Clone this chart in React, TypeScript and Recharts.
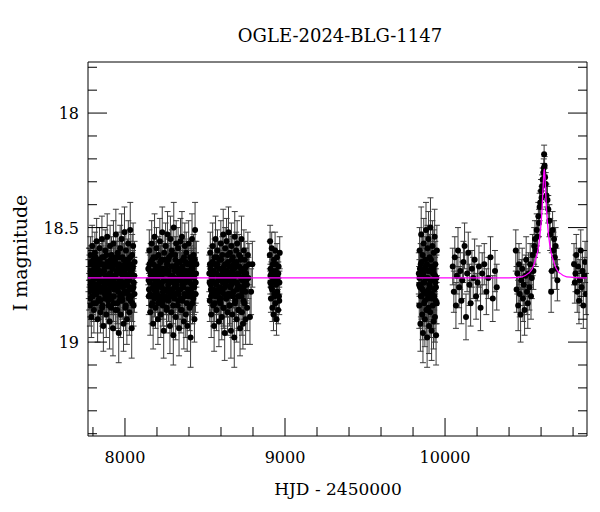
import { ComposedChart, Scatter, Line, XAxis, YAxis, ErrorBar } from "recharts";

// [HJD-2450000, I mag, error]
const S2017 = [
  [7772, 18.71, 0.07], [7776, 18.78, 0.08], [7779, 18.66, 0.07], [7781, 18.84, 0.09], [7784, 18.62, 0.08], [7787, 18.74, 0.06], [7790, 18.89, 0.09], [7792, 18.69, 0.07], [7795, 18.58, 0.09], [7798, 18.8, 0.08],
  [7801, 18.73, 0.07], [7804, 18.65, 0.08], [7806, 18.86, 0.1], [7809, 18.7, 0.06], [7812, 18.61, 0.09], [7815, 18.77, 0.07], [7818, 18.83, 0.08], [7820, 18.68, 0.07], [7823, 18.56, 0.1], [7826, 18.75, 0.07],
  [7829, 18.9, 0.1], [7832, 18.64, 0.08], [7835, 18.72, 0.06], [7838, 18.81, 0.09], [7841, 18.59, 0.09], [7844, 18.7, 0.07], [7847, 18.87, 0.09], [7850, 18.66, 0.08], [7853, 18.76, 0.07], [7856, 18.55, 0.1],
  [7859, 18.84, 0.08], [7862, 18.69, 0.07], [7865, 18.93, 0.11], [7868, 18.63, 0.08], [7871, 18.74, 0.06], [7874, 18.79, 0.08], [7877, 18.6, 0.09], [7880, 18.71, 0.07], [7883, 18.88, 0.1], [7886, 18.67, 0.07],
  [7889, 18.54, 0.1], [7892, 18.77, 0.07], [7895, 18.82, 0.08], [7898, 18.65, 0.08], [7901, 18.73, 0.06], [7904, 18.91, 0.12], [7907, 18.58, 0.09], [7910, 18.7, 0.07], [7913, 18.85, 0.09], [7916, 18.62, 0.08],
  [7919, 18.76, 0.07], [7922, 18.68, 0.07], [7925, 18.94, 0.12], [7928, 18.57, 0.1], [7931, 18.8, 0.08], [7934, 18.72, 0.06], [7937, 18.64, 0.08], [7940, 18.86, 0.09], [7943, 18.53, 0.11], [7946, 18.75, 0.07],
  [7949, 18.69, 0.07], [7952, 18.83, 0.09], [7955, 18.61, 0.09], [7958, 18.78, 0.08], [7961, 18.96, 0.13], [7964, 18.66, 0.08], [7967, 18.73, 0.06], [7970, 18.59, 0.1], [7973, 18.88, 0.1], [7976, 18.7, 0.07],
  [7979, 18.55, 0.11], [7982, 18.81, 0.08], [7985, 18.63, 0.09], [7988, 18.76, 0.07], [7991, 18.92, 0.12], [7994, 18.68, 0.08], [7997, 18.52, 0.11], [8000, 18.74, 0.07], [8003, 18.85, 0.1], [8006, 18.6, 0.09],
  [8009, 18.71, 0.07], [8012, 18.9, 0.11], [8015, 18.64, 0.09], [8018, 18.79, 0.08], [8021, 18.57, 0.1], [8024, 18.73, 0.07], [8027, 18.87, 0.1], [8030, 18.66, 0.08], [8033, 18.51, 0.12], [8036, 18.82, 0.09],
  [8039, 18.69, 0.08], [8042, 18.94, 0.13], [8045, 18.62, 0.09], [8048, 18.77, 0.08], [8051, 18.58, 0.1], [8054, 18.84, 0.09], [8057, 18.71, 0.08], [8060, 18.65, 0.09],
  [7774, 18.74, 0.07], [7778, 18.69, 0.07], [7783, 18.81, 0.08], [7788, 18.65, 0.07], [7793, 18.77, 0.07], [7797, 18.71, 0.06], [7802, 18.83, 0.08], [7807, 18.67, 0.07], [7811, 18.75, 0.06], [7816, 18.63, 0.07],
  [7821, 18.79, 0.07], [7825, 18.72, 0.06], [7830, 18.68, 0.07], [7834, 18.82, 0.08], [7839, 18.74, 0.06], [7843, 18.64, 0.07], [7848, 18.78, 0.07], [7852, 18.7, 0.06], [7857, 18.85, 0.08], [7861, 18.66, 0.07],
  [7866, 18.76, 0.06], [7870, 18.69, 0.07], [7875, 18.81, 0.08], [7879, 18.73, 0.06], [7884, 18.62, 0.07], [7888, 18.79, 0.07], [7893, 18.71, 0.06], [7897, 18.84, 0.08], [7902, 18.67, 0.07], [7906, 18.75, 0.06],
  [7911, 18.64, 0.07], [7915, 18.8, 0.07], [7920, 18.72, 0.06], [7924, 18.68, 0.07], [7929, 18.83, 0.08], [7933, 18.74, 0.06], [7938, 18.65, 0.07], [7942, 18.77, 0.07], [7947, 18.7, 0.06], [7951, 18.86, 0.08],
  [7956, 18.67, 0.07], [7960, 18.76, 0.06], [7965, 18.63, 0.07], [7969, 18.8, 0.07], [7974, 18.73, 0.06], [7978, 18.69, 0.07], [7983, 18.82, 0.08], [7987, 18.71, 0.06], [7992, 18.64, 0.07], [7996, 18.78, 0.07],
  [8001, 18.7, 0.06], [8005, 18.84, 0.08], [8010, 18.66, 0.07], [8014, 18.75, 0.06], [8019, 18.68, 0.07], [8023, 18.81, 0.08], [8028, 18.72, 0.06], [8032, 18.63, 0.07], [8037, 18.77, 0.07], [8041, 18.7, 0.06],
  [8046, 18.83, 0.08], [8050, 18.67, 0.07], [8055, 18.74, 0.07], [8059, 18.79, 0.08],
  [7775, 18.66, 0.07], [7782, 18.76, 0.07], [7789, 18.7, 0.06], [7796, 18.8, 0.07], [7803, 18.64, 0.07], [7810, 18.78, 0.07], [7817, 18.71, 0.06], [7824, 18.66, 0.07], [7831, 18.77, 0.07], [7837, 18.69, 0.06],
  [7845, 18.82, 0.07], [7851, 18.73, 0.06], [7858, 18.63, 0.07], [7864, 18.78, 0.07], [7872, 18.67, 0.07], [7878, 18.75, 0.06], [7885, 18.8, 0.07], [7891, 18.65, 0.07], [7899, 18.78, 0.07], [7905, 18.7, 0.06],
  [7912, 18.74, 0.06], [7918, 18.81, 0.07], [7926, 18.66, 0.07], [7932, 18.77, 0.07], [7939, 18.71, 0.06], [7945, 18.63, 0.07], [7953, 18.75, 0.06], [7959, 18.69, 0.07], [7966, 18.82, 0.07], [7972, 18.67, 0.07],
  [7980, 18.74, 0.06], [7986, 18.79, 0.07], [7993, 18.71, 0.06], [7999, 18.66, 0.07], [8007, 18.78, 0.07], [8013, 18.72, 0.06], [8020, 18.64, 0.07], [8026, 18.76, 0.07], [8034, 18.7, 0.06], [8040, 18.8, 0.07],
  [8047, 18.68, 0.07], [8053, 18.76, 0.07], [8058, 18.71, 0.08],
];

const S2018 = [
  [8146, 18.68, 0.07], [8149, 18.8, 0.08], [8152, 18.6, 0.09], [8155, 18.74, 0.07], [8158, 18.87, 0.1], [8161, 18.65, 0.08], [8164, 18.71, 0.06], [8167, 18.57, 0.1], [8170, 18.83, 0.09], [8173, 18.7, 0.07],
  [8176, 18.92, 0.11], [8179, 18.63, 0.08], [8182, 18.77, 0.07], [8185, 18.54, 0.1], [8188, 18.73, 0.06], [8191, 18.85, 0.09], [8194, 18.67, 0.07], [8197, 18.59, 0.09], [8200, 18.79, 0.08], [8203, 18.72, 0.06],
  [8206, 18.9, 0.11], [8209, 18.62, 0.08], [8212, 18.75, 0.07], [8215, 18.81, 0.09], [8218, 18.56, 0.1], [8221, 18.69, 0.07], [8224, 18.88, 0.1], [8227, 18.64, 0.08], [8230, 18.76, 0.07], [8233, 18.52, 0.11],
  [8236, 18.84, 0.09], [8239, 18.7, 0.06], [8242, 18.95, 0.12], [8245, 18.61, 0.09], [8248, 18.73, 0.07], [8251, 18.8, 0.08], [8254, 18.58, 0.1], [8257, 18.68, 0.07], [8260, 18.86, 0.1], [8263, 18.66, 0.08],
  [8266, 18.53, 0.1], [8269, 18.78, 0.07], [8272, 18.82, 0.09], [8275, 18.63, 0.08], [8278, 18.74, 0.06], [8281, 18.93, 0.12], [8284, 18.55, 0.1], [8287, 18.71, 0.07], [8290, 18.87, 0.09], [8293, 18.6, 0.09],
  [8296, 18.77, 0.07], [8299, 18.67, 0.07], [8302, 18.97, 0.13], [8305, 18.5, 0.11], [8308, 18.81, 0.08], [8311, 18.72, 0.06], [8314, 18.62, 0.08], [8317, 18.89, 0.1], [8320, 18.57, 0.1], [8323, 18.75, 0.07],
  [8326, 18.68, 0.07], [8329, 18.84, 0.09], [8332, 18.59, 0.09], [8335, 18.79, 0.08], [8338, 18.94, 0.12], [8341, 18.65, 0.08], [8344, 18.73, 0.06], [8347, 18.56, 0.1], [8350, 18.86, 0.1], [8353, 18.7, 0.07],
  [8356, 18.54, 0.11], [8359, 18.82, 0.08], [8362, 18.64, 0.09], [8365, 18.76, 0.07], [8368, 18.91, 0.12], [8371, 18.69, 0.08], [8374, 18.58, 0.1], [8377, 18.74, 0.07], [8380, 18.88, 0.1], [8383, 18.61, 0.09],
  [8386, 18.71, 0.07], [8389, 18.93, 0.11], [8392, 18.66, 0.09], [8395, 18.8, 0.08], [8398, 18.57, 0.1], [8401, 18.72, 0.07], [8404, 18.85, 0.1], [8407, 18.63, 0.08], [8410, 18.98, 0.13], [8413, 18.77, 0.09],
  [8416, 18.68, 0.08], [8419, 18.55, 0.11], [8422, 18.83, 0.09], [8425, 18.7, 0.08], [8428, 18.62, 0.09], [8431, 18.79, 0.09], [8434, 18.9, 0.1], [8438, 18.51, 0.12], [8442, 18.74, 0.09], [8446, 18.66, 0.1],
  [8148, 18.73, 0.07], [8153, 18.66, 0.07], [8157, 18.79, 0.08], [8162, 18.7, 0.06], [8166, 18.84, 0.08], [8171, 18.64, 0.07], [8175, 18.76, 0.06], [8180, 18.69, 0.07], [8184, 18.81, 0.08], [8189, 18.72, 0.06],
  [8193, 18.63, 0.07], [8198, 18.78, 0.07], [8202, 18.7, 0.06], [8207, 18.83, 0.08], [8211, 18.67, 0.07], [8216, 18.74, 0.06], [8220, 18.65, 0.07], [8225, 18.8, 0.07], [8229, 18.71, 0.06], [8234, 18.68, 0.07],
  [8238, 18.82, 0.08], [8243, 18.73, 0.06], [8247, 18.64, 0.07], [8252, 18.77, 0.07], [8256, 18.7, 0.06], [8261, 18.85, 0.08], [8265, 18.66, 0.07], [8270, 18.75, 0.06], [8274, 18.69, 0.07], [8279, 18.8, 0.08],
  [8283, 18.72, 0.06], [8288, 18.62, 0.07], [8292, 18.78, 0.07], [8297, 18.71, 0.06], [8301, 18.84, 0.08], [8306, 18.67, 0.07], [8310, 18.76, 0.06], [8315, 18.64, 0.07], [8319, 18.79, 0.07], [8324, 18.73, 0.06],
  [8328, 18.68, 0.07], [8333, 18.82, 0.08], [8337, 18.7, 0.06], [8342, 18.65, 0.07], [8346, 18.77, 0.07], [8351, 18.72, 0.06], [8355, 18.86, 0.08], [8360, 18.67, 0.07], [8364, 18.74, 0.06], [8369, 18.63, 0.07],
  [8373, 18.8, 0.07], [8378, 18.71, 0.06], [8382, 18.69, 0.07], [8387, 18.83, 0.08], [8391, 18.73, 0.06], [8396, 18.66, 0.07], [8400, 18.78, 0.07], [8405, 18.7, 0.06], [8409, 18.84, 0.08], [8414, 18.65, 0.07],
  [8418, 18.75, 0.07], [8423, 18.68, 0.07], [8427, 18.81, 0.08], [8432, 18.72, 0.07], [8437, 18.64, 0.08], [8441, 18.79, 0.08],
  [8150, 18.77, 0.07], [8156, 18.69, 0.07], [8163, 18.8, 0.07], [8169, 18.72, 0.06], [8177, 18.66, 0.07], [8183, 18.75, 0.06], [8190, 18.79, 0.07], [8196, 18.68, 0.07], [8204, 18.76, 0.06], [8210, 18.71, 0.06],
  [8217, 18.82, 0.07], [8223, 18.65, 0.07], [8231, 18.74, 0.06], [8237, 18.78, 0.07], [8244, 18.69, 0.07], [8250, 18.73, 0.06], [8258, 18.81, 0.07], [8264, 18.7, 0.06], [8271, 18.64, 0.07], [8277, 18.77, 0.07],
  [8285, 18.72, 0.06], [8291, 18.67, 0.07], [8298, 18.8, 0.07], [8304, 18.74, 0.06], [8312, 18.69, 0.07], [8318, 18.76, 0.06], [8325, 18.66, 0.07], [8331, 18.78, 0.07], [8339, 18.72, 0.06], [8345, 18.81, 0.07],
  [8352, 18.68, 0.07], [8358, 18.75, 0.06], [8366, 18.7, 0.06], [8372, 18.79, 0.07], [8379, 18.65, 0.07], [8385, 18.73, 0.06], [8393, 18.77, 0.07], [8399, 18.69, 0.07], [8406, 18.74, 0.06], [8412, 18.8, 0.07],
  [8420, 18.71, 0.07], [8426, 18.66, 0.07], [8433, 18.76, 0.08], [8444, 18.7, 0.09],
];

const S2019 = [
  [8527, 18.7, 0.08], [8530, 18.82, 0.09], [8533, 18.61, 0.09], [8536, 18.75, 0.07], [8539, 18.88, 0.1], [8542, 18.66, 0.08], [8545, 18.72, 0.07], [8548, 18.58, 0.1], [8551, 18.84, 0.09], [8554, 18.69, 0.07],
  [8557, 18.93, 0.11], [8560, 18.63, 0.08], [8563, 18.78, 0.07], [8566, 18.55, 0.1], [8569, 18.74, 0.07], [8572, 18.86, 0.09], [8575, 18.67, 0.07], [8578, 18.6, 0.09], [8581, 18.8, 0.08], [8584, 18.71, 0.06],
  [8587, 18.91, 0.11], [8590, 18.64, 0.08], [8593, 18.76, 0.07], [8596, 18.83, 0.09], [8599, 18.57, 0.1], [8602, 18.68, 0.07], [8605, 18.89, 0.1], [8608, 18.62, 0.08], [8611, 18.77, 0.07], [8614, 18.53, 0.11],
  [8617, 18.85, 0.09], [8620, 18.72, 0.06], [8623, 18.96, 0.12], [8626, 18.59, 0.09], [8629, 18.74, 0.07], [8632, 18.81, 0.08], [8635, 18.56, 0.1], [8638, 18.69, 0.07], [8641, 18.87, 0.1], [8644, 18.65, 0.08],
  [8647, 18.52, 0.11], [8650, 18.79, 0.07], [8653, 18.84, 0.09], [8656, 18.61, 0.08], [8659, 18.73, 0.06], [8662, 18.95, 0.12], [8665, 18.58, 0.1], [8668, 18.7, 0.07], [8671, 18.88, 0.1], [8674, 18.63, 0.09],
  [8677, 18.78, 0.07], [8680, 18.66, 0.07], [8683, 18.98, 0.13], [8686, 18.54, 0.11], [8689, 18.82, 0.08], [8692, 18.71, 0.06], [8695, 18.6, 0.08], [8698, 18.9, 0.1], [8701, 18.57, 0.1], [8704, 18.75, 0.07],
  [8707, 18.67, 0.07], [8710, 18.86, 0.09], [8713, 18.62, 0.09], [8716, 18.8, 0.08], [8719, 18.94, 0.12], [8722, 18.64, 0.08], [8725, 18.72, 0.06], [8728, 18.55, 0.1], [8731, 18.87, 0.1], [8734, 18.69, 0.07],
  [8737, 18.92, 0.11], [8740, 18.76, 0.08], [8743, 18.6, 0.09], [8746, 18.83, 0.09], [8750, 18.68, 0.09], [8754, 18.9, 0.11], [8758, 18.73, 0.09], [8763, 18.85, 0.1], [8768, 18.62, 0.1], [8775, 18.66, 0.09],
  [8781, 18.89, 0.12], [8788, 18.78, 0.1], [8796, 18.66, 0.1],
  [8529, 18.74, 0.07], [8534, 18.68, 0.07], [8538, 18.8, 0.08], [8543, 18.71, 0.06], [8547, 18.65, 0.07], [8552, 18.77, 0.07], [8556, 18.7, 0.06], [8561, 18.83, 0.08], [8565, 18.66, 0.07], [8570, 18.75, 0.06],
  [8574, 18.63, 0.07], [8579, 18.79, 0.07], [8583, 18.72, 0.06], [8588, 18.68, 0.07], [8592, 18.82, 0.08], [8597, 18.73, 0.06], [8601, 18.64, 0.07], [8606, 18.78, 0.07], [8610, 18.7, 0.06], [8615, 18.85, 0.08],
  [8619, 18.67, 0.07], [8624, 18.76, 0.06], [8628, 18.69, 0.07], [8633, 18.81, 0.08], [8637, 18.73, 0.06], [8642, 18.62, 0.07], [8646, 18.79, 0.07], [8651, 18.71, 0.06], [8655, 18.84, 0.08], [8660, 18.67, 0.07],
  [8664, 18.75, 0.06], [8669, 18.64, 0.07], [8673, 18.8, 0.07], [8678, 18.72, 0.06], [8682, 18.68, 0.07], [8687, 18.83, 0.08], [8691, 18.74, 0.06], [8696, 18.65, 0.07], [8700, 18.77, 0.07], [8705, 18.7, 0.06],
  [8709, 18.86, 0.08], [8714, 18.67, 0.07], [8718, 18.76, 0.06], [8723, 18.63, 0.07], [8727, 18.8, 0.07], [8732, 18.73, 0.06], [8736, 18.69, 0.07], [8741, 18.82, 0.08], [8745, 18.71, 0.07], [8749, 18.64, 0.08],
  [8753, 18.78, 0.08], [8757, 18.7, 0.08], [8762, 18.75, 0.08], [8771, 18.72, 0.09],
  [8531, 18.66, 0.07], [8537, 18.77, 0.07], [8544, 18.79, 0.07], [8550, 18.69, 0.06], [8558, 18.74, 0.06], [8564, 18.8, 0.07], [8571, 18.7, 0.06], [8577, 18.66, 0.07], [8585, 18.77, 0.07], [8591, 18.72, 0.06],
  [8598, 18.81, 0.07], [8604, 18.68, 0.07], [8612, 18.74, 0.06], [8618, 18.79, 0.07], [8625, 18.66, 0.07], [8631, 18.75, 0.06], [8639, 18.71, 0.06], [8645, 18.8, 0.07], [8652, 18.67, 0.07], [8658, 18.76, 0.06],
  [8666, 18.73, 0.06], [8672, 18.69, 0.07], [8679, 18.78, 0.07], [8685, 18.71, 0.06], [8693, 18.66, 0.07], [8699, 18.74, 0.06], [8706, 18.8, 0.07], [8712, 18.7, 0.06], [8720, 18.76, 0.07], [8726, 18.68, 0.07],
  [8733, 18.78, 0.07], [8739, 18.72, 0.07], [8747, 18.75, 0.08], [8756, 18.67, 0.08],
];

const S2020 = [
  [8905, 18.62, 0.06], [8907, 18.56, 0.07], [8908, 18.74, 0.05], [8910, 18.68, 0.05], [8912, 18.81, 0.06], [8915, 18.7, 0.05], [8917, 18.59, 0.07], [8919, 18.77, 0.05], [8921, 18.85, 0.06], [8924, 18.66, 0.05],
  [8926, 18.73, 0.05], [8928, 18.88, 0.07], [8931, 18.64, 0.05], [8933, 18.79, 0.06], [8935, 18.71, 0.05], [8938, 18.6, 0.08], [8940, 18.83, 0.06], [8942, 18.69, 0.05], [8945, 18.75, 0.05], [8947, 18.9, 0.07],
  [8950, 18.63, 0.06], [8952, 18.78, 0.05], [8955, 18.72, 0.05], [8957, 18.86, 0.06], [8960, 18.67, 0.05], [8962, 18.8, 0.06], [8965, 18.74, 0.05], [8967, 18.61, 0.07],
  [8909, 18.71, 0.05], [8914, 18.76, 0.05], [8922, 18.69, 0.05], [8929, 18.74, 0.05], [8936, 18.8, 0.06], [8943, 18.66, 0.05], [8949, 18.73, 0.05], [8958, 18.7, 0.05], [8964, 18.82, 0.06],
];

const S2022 = [
  [9836, 18.7, 0.09], [9839, 18.84, 0.1], [9841, 18.6, 0.1], [9844, 18.76, 0.09], [9846, 18.92, 0.12], [9848, 18.66, 0.09], [9851, 18.53, 0.12], [9853, 18.8, 0.1], [9855, 18.71, 0.08], [9858, 18.88, 0.11],
  [9860, 18.62, 0.1], [9862, 18.96, 0.13], [9865, 18.74, 0.09], [9867, 18.57, 0.11], [9869, 18.83, 0.1], [9872, 18.68, 0.09], [9874, 18.9, 0.12], [9876, 18.64, 0.1], [9879, 18.78, 0.09], [9881, 18.51, 0.12],
  [9883, 18.86, 0.11], [9886, 18.72, 0.08], [9888, 18.98, 0.13], [9890, 18.59, 0.1], [9893, 18.81, 0.1], [9895, 18.69, 0.09], [9897, 18.55, 0.12], [9900, 18.93, 0.12], [9902, 18.75, 0.09], [9904, 18.63, 0.1],
  [9907, 18.87, 0.11], [9909, 18.5, 0.13], [9911, 18.79, 0.1], [9914, 18.67, 0.09], [9916, 18.95, 0.13], [9918, 18.73, 0.09], [9921, 18.58, 0.11], [9923, 18.84, 0.1], [9925, 18.7, 0.09], [9928, 18.91, 0.12],
  [9930, 18.61, 0.1], [9932, 18.77, 0.09], [9935, 18.54, 0.12], [9937, 18.89, 0.11], [9939, 18.66, 0.1], [9942, 18.82, 0.1], [9944, 18.97, 0.13], [9946, 18.72, 0.1], [9949, 18.6, 0.11],
  [9838, 18.75, 0.08], [9843, 18.68, 0.08], [9849, 18.8, 0.09], [9854, 18.65, 0.08], [9859, 18.77, 0.08], [9864, 18.7, 0.08], [9870, 18.74, 0.08], [9875, 18.82, 0.09], [9880, 18.67, 0.08], [9885, 18.79, 0.08],
  [9891, 18.72, 0.08], [9896, 18.85, 0.09], [9901, 18.69, 0.08], [9906, 18.76, 0.08], [9912, 18.64, 0.08], [9917, 18.81, 0.09], [9922, 18.73, 0.08], [9927, 18.68, 0.08], [9933, 18.8, 0.09], [9938, 18.71, 0.08],
  [9943, 18.76, 0.08], [9948, 18.83, 0.09],
  [9840, 18.72, 0.08], [9850, 18.76, 0.08], [9857, 18.7, 0.08], [9868, 18.78, 0.08], [9877, 18.72, 0.08], [9887, 18.66, 0.08], [9898, 18.77, 0.08], [9908, 18.73, 0.08], [9919, 18.79, 0.08], [9929, 18.7, 0.08],
  [9940, 18.74, 0.08],
];

const S2023 = [
  [10048, 18.67, 0.08], [10055, 18.78, 0.09], [10061, 18.63, 0.09], [10068, 18.84, 0.1], [10074, 18.71, 0.08], [10081, 18.6, 0.1], [10088, 18.76, 0.09], [10095, 18.69, 0.08], [10102, 18.82, 0.1], [10108, 18.73, 0.08],
  [10115, 18.65, 0.09], [10122, 18.58, 0.1], [10131, 18.89, 0.1], [10138, 18.7, 0.08], [10145, 18.61, 0.09], [10152, 18.75, 0.09], [10160, 18.83, 0.1], [10168, 18.68, 0.08], [10176, 18.72, 0.09], [10185, 18.64, 0.09],
  [10194, 18.8, 0.1], [10203, 18.74, 0.08], [10212, 18.67, 0.09], [10222, 18.85, 0.1], [10232, 18.7, 0.09], [10245, 18.66, 0.09], [10258, 18.78, 0.1], [10270, 18.72, 0.09], [10284, 18.63, 0.09], [10298, 18.81, 0.1],
  [10312, 18.69, 0.09], [10323, 18.76, 0.1],
];

const S2024 = [
  [10442, 18.6, 0.09], [10447, 18.77, 0.1], [10452, 18.7, 0.09], [10457, 18.84, 0.11], [10462, 18.66, 0.09], [10467, 18.79, 0.1], [10472, 18.88, 0.12], [10477, 18.73, 0.09], [10482, 18.68, 0.09], [10487, 18.81, 0.1],
  [10492, 18.75, 0.09], [10497, 18.86, 0.11], [10502, 18.71, 0.09], [10507, 18.64, 0.1], [10512, 18.78, 0.1], [10517, 18.83, 0.11], [10522, 18.7, 0.09], [10527, 18.76, 0.1], [10532, 18.66, 0.09], [10537, 18.8, 0.1],
  [10542, 18.72, 0.09], [10547, 18.62, 0.09], [10552, 18.69, 0.08], [10557, 18.58, 0.08], [10562, 18.55, 0.08], [10567, 18.6, 0.07], [10573, 18.51, 0.07], [10578, 18.54, 0.07], [10583, 18.45, 0.06], [10587, 18.48, 0.06],
  [10591, 18.41, 0.06], [10595, 18.39, 0.05], [10600, 18.34, 0.05], [10603, 18.37, 0.05], [10606, 18.32, 0.05], [10610, 18.29, 0.05], [10614, 18.26, 0.04], [10617, 18.24, 0.04], [10619, 18.18, 0.04], [10622, 18.23, 0.04],
  [10625, 18.28, 0.04], [10629, 18.31, 0.05], [10634, 18.36, 0.05], [10640, 18.38, 0.06], [10645, 18.42, 0.06], [10652, 18.47, 0.07], [10657, 18.53, 0.07], [10663, 18.78, 0.09], [10667, 18.69, 0.08], [10672, 18.51, 0.08],
  [10677, 18.6, 0.08], [10681, 18.55, 0.08], [10686, 18.63, 0.09], [10691, 18.58, 0.08], [10696, 18.68, 0.09], [10702, 18.73, 0.09],
];

const S2025 = [
  [10806, 18.66, 0.09], [10811, 18.74, 0.09], [10815, 18.7, 0.08], [10820, 18.62, 0.09], [10826, 18.78, 0.09], [10831, 18.67, 0.08], [10837, 18.82, 0.1], [10842, 18.73, 0.09], [10848, 18.6, 0.09], [10853, 18.76, 0.08],
  [10859, 18.69, 0.09], [10864, 18.84, 0.1], [10870, 18.71, 0.08], [10875, 18.65, 0.09], [10881, 18.79, 0.09],
];

// model curve
const MODEL_T = [7769, 10400, 10480, 10520, 10545, 10565, 10580, 10592, 10600, 10606, 10611, 10615, 10618, 10620, 10622, 10625, 10629, 10634, 10640, 10648, 10660, 10675, 10695, 10720, 10760, 10887];
const MODEL_M = [18.72, 18.72, 18.715, 18.7, 18.68, 18.64, 18.6, 18.54, 18.48, 18.42, 18.35, 18.29, 18.255, 18.245, 18.255, 18.29, 18.35, 18.42, 18.48, 18.54, 18.6, 18.64, 18.68, 18.7, 18.715, 18.72];

const X_TICKS = [7800, 8000, 8200, 8400, 8600, 8800, 9000, 9200, 9400, 9600, 9800, 10000, 10200, 10400, 10600, 10800];
const Y_TICKS = [17.8, 17.9, 18, 18.1, 18.2, 18.3, 18.4, 18.5, 18.6, 18.7, 18.8, 18.9, 19, 19.1, 19.2, 19.3, 19.4];
const X_DOMAIN = [7769, 10887];
const Y_DOMAIN = [17.777, 19.41];

const FONT = "'DejaVu Serif', serif";
const MAGENTA = "#ff00ff";

const points = [S2017, S2018, S2019, S2020, S2022, S2023, S2024, S2025]
  .flat()
  .map(([t, m, e]) => ({ t, m, e }));
const model = MODEL_T.map((t, i) => ({ t, m: MODEL_M[i] }));

const isMajorX = (v: number) => v % 1000 === 0;
const isMajorY = (v: number) => Math.abs(v * 2 - Math.round(v * 2)) < 1e-6;

function BottomTick({ x, y, payload }: any) {
  const major = isMajorX(payload.value);
  return (
    <g>
      <line x1={x} x2={x} y1={y} y2={y - (major ? 18 : 9)} stroke="#000" />
      {major && (
        <text x={x} y={y + 27} textAnchor="middle" fontFamily={FONT} fontSize={16} fill="#000">
          {payload.value}
        </text>
      )}
    </g>
  );
}

function TopTick({ x, y, payload }: any) {
  const major = isMajorX(payload.value);
  return <line x1={x} x2={x} y1={y} y2={y + (major ? 18 : 9)} stroke="#000" />;
}

function LeftTick({ x, y, payload }: any) {
  const major = isMajorY(payload.value);
  return (
    <g>
      <line x1={x} x2={x + (major ? 19 : 9)} y1={y} y2={y} stroke="#000" />
      {major && (
        <text x={x - 9} y={y + 6} textAnchor="end" fontFamily={FONT} fontSize={16} fill="#000">
          {payload.value}
        </text>
      )}
    </g>
  );
}

function RightTick({ x, y, payload }: any) {
  const major = isMajorY(payload.value);
  return <line x1={x} x2={x - (major ? 19 : 9)} y1={y} y2={y} stroke="#000" />;
}

const Dot = (p: any) => <circle cx={p.cx} cy={p.cy} r={3} fill="#000" />;

export default function App() {
  return (
    <div style={{ position: "absolute", left: 0, top: 0, width: 600, height: 512, background: "#fff" }}>
      <ComposedChart
        width={600}
        height={512}
        margin={{ top: 61, right: 12, bottom: 75, left: 87 }}
      >
        <XAxis
          xAxisId="b"
          dataKey="t"
          type="number"
          domain={X_DOMAIN}
          allowDataOverflow
          ticks={X_TICKS}
          interval={0}
          height={1}
          tickSize={0}
          tickMargin={0}
          tickLine={false}
          axisLine={{ stroke: "#000" }}
          tick={<BottomTick />}
        />
        <XAxis
          xAxisId="t"
          orientation="top"
          type="number"
          domain={X_DOMAIN}
          allowDataOverflow
          ticks={X_TICKS}
          interval={0}
          height={1}
          tickSize={0}
          tickMargin={0}
          tickLine={false}
          axisLine={{ stroke: "#000" }}
          tick={<TopTick />}
        />
        <YAxis
          yAxisId="l"
          dataKey="m"
          type="number"
          reversed
          domain={Y_DOMAIN}
          allowDataOverflow
          ticks={Y_TICKS}
          interval={0}
          width={1}
          tickSize={0}
          tickMargin={0}
          tickLine={false}
          axisLine={{ stroke: "#000" }}
          tick={<LeftTick />}
        />
        <YAxis
          yAxisId="r"
          orientation="right"
          type="number"
          reversed
          domain={Y_DOMAIN}
          allowDataOverflow
          ticks={Y_TICKS}
          interval={0}
          width={1}
          tickSize={0}
          tickMargin={0}
          tickLine={false}
          axisLine={{ stroke: "#000" }}
          tick={<RightTick />}
        />
        <Scatter
          xAxisId="b"
          yAxisId="l"
          data={points}
          dataKey="m"
          shape={Dot}
          isAnimationActive={false}
        >
          <ErrorBar dataKey="e" direction="y" width={3} stroke="#3a3a3a" strokeWidth={1} />
        </Scatter>
        <Line
          xAxisId="b"
          yAxisId="l"
          data={model}
          dataKey="m"
          type="monotone"
          stroke={MAGENTA}
          strokeWidth={1.3}
          dot={false}
          activeDot={false}
          isAnimationActive={false}
          zIndex={1000}
        />
      </ComposedChart>
      <svg width={600} height={512} style={{ position: "absolute", left: 0, top: 0, pointerEvents: "none" }}>
        <text x={340} y={42} textAnchor="middle" fontFamily={FONT} fontSize={18} fill="#000">
          OGLE-2024-BLG-1147
        </text>
        <text x={338} y={495} textAnchor="middle" fontFamily={FONT} fontSize={17} fill="#000">
          HJD - 2450000
        </text>
        <text
          x={0}
          y={0}
          transform="translate(27 253) rotate(-90)"
          textAnchor="middle"
          fontFamily={FONT}
          fontSize={19}
          fill="#000"
        >
          I magnitude
        </text>
      </svg>
    </div>
  );
}
